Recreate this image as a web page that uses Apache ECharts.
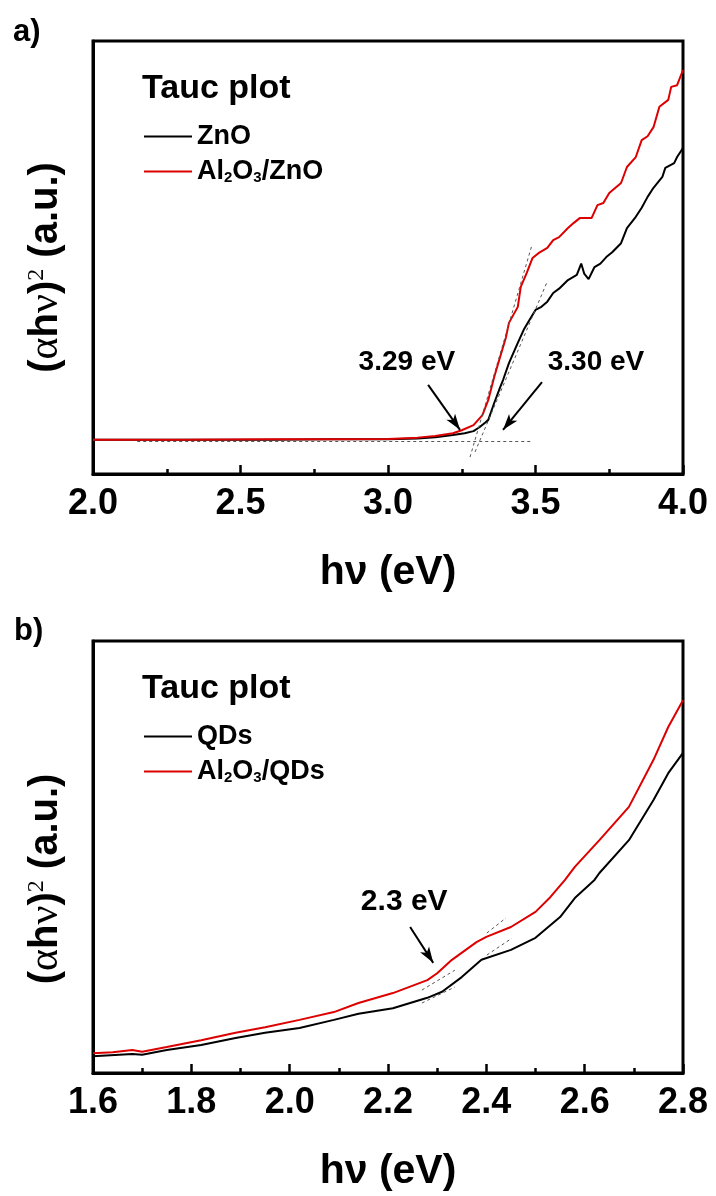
<!DOCTYPE html>
<html>
<head>
<meta charset="utf-8">
<script src="https://cdn.jsdelivr.net/npm/echarts@6/dist/echarts.min.js"></script>
<style>
  html, body { margin: 0; padding: 0; background: #fff; }
  #chart { width: 716px; height: 1196px; }
</style>
</head>
<body>
<div id="chart"></div>
<script>
// panel a: [hv (eV), (alpha h nu)^2 a.u.]
const zno = [
  [2.00, 7.9], [2.30, 7.9], [2.60, 7.9], [2.80, 8.0], [3.00, 8.0], [3.10, 8.2],
  [3.16, 8.5], [3.22, 9.0], [3.26, 9.4], [3.29, 9.9], [3.31, 10.8], [3.33, 11.9],
  [3.34, 12.5], [3.36, 16.4], [3.38, 20.0], [3.39, 21.7], [3.41, 25.6], [3.44, 30.3],
  [3.46, 33.3], [3.48, 35.6], [3.50, 37.9], [3.52, 38.6], [3.54, 39.8], [3.56, 41.8],
  [3.58, 42.8], [3.61, 44.8], [3.64, 46.0], [3.655, 48.6], [3.665, 46.3], [3.68, 45.0],
  [3.70, 47.8], [3.72, 48.6], [3.74, 50.1], [3.76, 51.2], [3.79, 53.3], [3.81, 56.8],
  [3.84, 59.4], [3.86, 61.5], [3.88, 64.0], [3.90, 66.1], [3.93, 68.6], [3.94, 70.7],
  [3.97, 71.8], [3.98, 73.2], [4.00, 75.3]
];
const al2o3Zno = [
  [2.00, 7.9], [2.30, 7.9], [2.60, 8.0], [2.80, 8.0], [3.00, 8.1], [3.10, 8.4],
  [3.16, 8.8], [3.22, 9.4], [3.25, 10.1], [3.29, 11.3], [3.32, 13.6], [3.34, 17.1],
  [3.36, 22.4], [3.38, 27.0], [3.40, 31.6], [3.41, 34.9], [3.44, 38.6], [3.45, 43.2],
  [3.47, 46.4], [3.49, 49.9], [3.51, 51.0], [3.54, 52.2], [3.56, 54.0], [3.58, 54.7],
  [3.61, 56.8], [3.63, 58.0], [3.65, 59.1], [3.69, 59.1], [3.71, 62.1], [3.73, 62.6],
  [3.75, 64.9], [3.79, 67.2], [3.81, 70.9], [3.84, 73.2], [3.86, 77.1], [3.88, 78.0],
  [3.90, 80.1], [3.92, 84.8], [3.95, 86.4], [3.96, 89.4], [3.98, 89.8], [4.00, 93.3]
];
// panel b
const qds = [
  [1.60, 3.9], [1.68, 4.4], [1.70, 4.2], [1.75, 5.3], [1.82, 6.5], [1.89, 8.1],
  [1.95, 9.3], [2.02, 10.4], [2.09, 12.3], [2.14, 13.7], [2.21, 15.0], [2.28, 17.4],
  [2.31, 18.8], [2.35, 22.2], [2.39, 26.2], [2.45, 28.5], [2.50, 31.3], [2.55, 36.1],
  [2.58, 40.5], [2.62, 44.7], [2.63, 46.3], [2.69, 53.9], [2.74, 63.2], [2.77, 69.4],
  [2.80, 74.1]
];
const al2o3Qds = [
  [1.60, 4.6], [1.64, 4.8], [1.68, 5.3], [1.70, 4.9], [1.75, 6.0], [1.82, 7.6],
  [1.89, 9.3], [1.95, 10.6], [2.02, 12.3], [2.09, 14.1], [2.14, 16.2], [2.21, 18.5],
  [2.28, 21.5], [2.30, 23.1], [2.33, 26.2], [2.38, 30.3], [2.40, 31.5], [2.45, 33.8],
  [2.50, 37.3], [2.53, 40.7], [2.56, 44.7], [2.58, 47.7], [2.63, 53.9], [2.69, 61.6],
  [2.74, 72.5], [2.77, 80.1], [2.80, 86.3]
];

// tangent / baseline fits and annotation arrows, in data units
const fitsA = [
  [[2.15, 7.6], [3.49, 7.6]],
  [[3.278, 3.9], [3.488, 52.9]],
  [[3.295, 5.1], [3.539, 44.3]]
];
const arrowsA = [
  [[3.136, 20.6], [3.244, 10.2]],
  [[3.522, 21.2], [3.39, 10.2]]
];
const notesA = [['3.29 eV', 3.064, 25.9], ['3.30 eV', 3.705, 25.9]];

const fitsB = [
  [[2.269, 19.2], [2.336, 23.8]],
  [[2.269, 16.2], [2.336, 19.9]],
  [[2.401, 32.4], [2.44, 35.9]],
  [[2.401, 27.3], [2.452, 31.2]]
];
const arrowsB = [[[2.245, 33.8], [2.292, 25.5]]];
const notesB = [['2.3 eV', 2.233, 39.6]];

const FONT = '"Liberation Sans", Arial, sans-serif';
const SERIF = '"Liberation Serif", "DejaVu Serif", serif';
const RED = '#dd0000';

const chart = echarts.init(document.getElementById('chart'));

function xAxis(gridIndex, min, max, interval) {
  return {
    type: 'value',
    gridIndex,
    min,
    max,
    interval,
    axisLine: { onZero: false, lineStyle: { color: '#000', width: 3 } },
    axisTick: { inside: true, length: 9, lineStyle: { color: '#000', width: 2.5 } },
    minorTick: { show: true, splitNumber: 2, length: 5, lineStyle: { color: '#000', width: 2.5 } },
    splitLine: { show: false },
    axisLabel: {
      margin: 12,
      fontSize: 36,
      fontWeight: 'bold',
      color: '#000',
      fontFamily: FONT,
      formatter: (v) => v.toFixed(1),
    },
    name: 'hν (eV)',
    nameLocation: 'middle',
    nameGap: 78,
    nameTextStyle: { fontSize: 41, fontWeight: 'bold', color: '#000', fontFamily: FONT },
  };
}

function yAxis(gridIndex, shift) {
  return {
    type: 'value',
    gridIndex,
    min: 0,
    max: 100,
    axisLine: { lineStyle: { color: '#000', width: 3 } },
    axisTick: { show: false },
    axisLabel: { show: false },
    splitLine: { show: false },
    name: '{b|(}{g|α}{b|h}{g|ν}{b|)}{s|2}{b| (a.u.)}',
    nameLocation: 'middle',
    nameRotate: 90,
    nameGap: 26,
    nameTextStyle: {
      color: '#000',
      padding: [0, shift, 0, 0],
      rich: {
        b: { fontSize: 40, fontWeight: 'bold', fontFamily: FONT, color: '#000' },
        g: { fontSize: 42, fontFamily: SERIF, color: '#000' },
        s: { fontSize: 24, fontFamily: SERIF, color: '#000', verticalAlign: 'top' },
      },
    },
  };
}

function lineSeries(name, idx, data, color, fits, arrows, notes) {
  const s = {
    name,
    type: 'line',
    xAxisIndex: idx,
    yAxisIndex: idx,
    data,
    symbol: 'none',
    lineStyle: { color, width: 2 },
    itemStyle: { color },
  };
  if (fits) {
    s.markLine = {
      silent: true,
      symbol: 'none',
      label: { show: false },
      lineStyle: { type: [3, 3], color: '#555', width: 1 },
      data: fits.map(([a, b]) => [{ coord: a }, { coord: b }]),
    };
  }
  if (arrows) {
    s.markLine = {
      silent: true,
      symbol: ['none', 'arrow'],
      symbolSize: [8, 16],
      label: { show: false },
      lineStyle: { type: 'solid', color: '#000', width: 2 },
      data: arrows.map(([a, b]) => [{ coord: a }, { coord: b }]),
    };
    s.markPoint = {
      silent: true,
      symbol: 'circle',
      symbolSize: 1,
      itemStyle: { color: 'transparent' },
      label: {
        show: true,
        position: 'inside',
        formatter: '{b}',
        fontSize: idx === 0 ? 28 : 30,
        fontWeight: 'bold',
        color: '#000',
        fontFamily: FONT,
      },
      data: notes.map(([text, x, y]) => ({ name: text, coord: [x, y] })),
    };
  }
  return s;
}

function legend(top, names) {
  return {
    left: 144,
    top,
    orient: 'vertical',
    padding: 0,
    icon: 'rect',
    itemGap: 8,
    itemWidth: 48,
    itemHeight: 2,
    data: names,
    formatter: (name) => '{n|' + name.replace(/(\d)/g, '}{s|$1}{n|') + '}',
    textStyle: {
      rich: {
        n: { fontSize: 27, fontWeight: 'bold', fontFamily: FONT, color: '#000', lineHeight: 28 },
        s: { fontSize: 15, fontWeight: 'bold', fontFamily: FONT, color: '#000', verticalAlign: 'bottom', lineHeight: 28 },
      },
    },
  };
}

function title(text, left, top, size) {
  return {
    text,
    left,
    top,
    padding: 0,
    textStyle: { fontSize: size, fontWeight: 'bold', color: '#000', fontFamily: FONT },
  };
}

chart.setOption({
  animation: false,
  backgroundColor: '#fff',
  title: [
    title('a)', 13, 17, 31),
    title('Tauc plot', 142, 72, 34),
    title('b)', 14, 616, 31),
    title('Tauc plot', 142, 672, 34),
  ],
  legend: [
    legend(123, ['ZnO', 'Al2O3/ZnO']),
    legend(723, ['QDs', 'Al2O3/QDs']),
  ],
  grid: [
    { left: 93, top: 41, width: 590, height: 433, show: true, borderColor: '#000', borderWidth: 3 },
    { left: 93, top: 641, width: 590, height: 432, show: true, borderColor: '#000', borderWidth: 3 },
  ],
  xAxis: [xAxis(0, 2, 4, 0.5), xAxis(1, 1.6, 2.8, 0.2)],
  yAxis: [yAxis(0, 20), yAxis(1, 44)],
  series: [
    lineSeries('ZnO', 0, zno, '#000', fitsA),
    lineSeries('Al2O3/ZnO', 0, al2o3Zno, RED, null, arrowsA, notesA),
    lineSeries('QDs', 1, qds, '#000', fitsB),
    lineSeries('Al2O3/QDs', 1, al2o3Qds, RED, null, arrowsB, notesB),
  ],
});
</script>
</body>
</html>
